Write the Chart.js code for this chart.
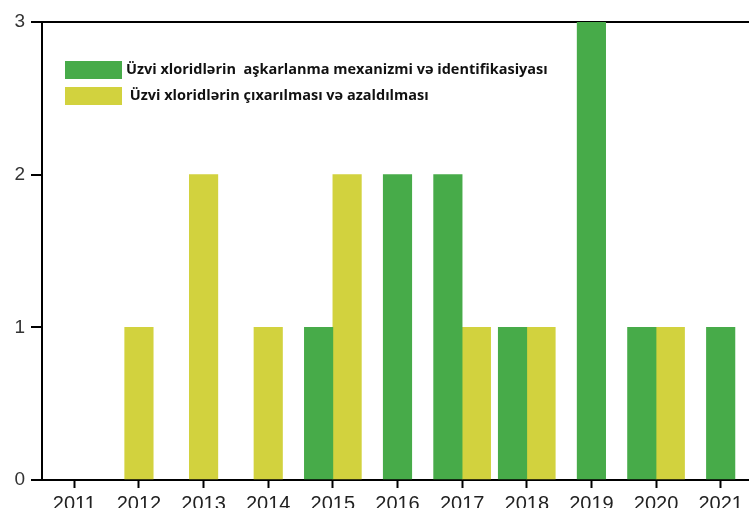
<!DOCTYPE html>
<html>
<head>
<meta charset="utf-8">
<script src="https://cdn.jsdelivr.net/npm/chart.js@4"></script>
<style>
    html, body { margin: 0; padding: 0; background: #fff; overflow: hidden; }
    #wrap { width: 753px; height: 508px; }
</style>
</head>
<body>
<div id="wrap"><canvas id="chart" width="753" height="508"></canvas></div>
<script>
const years = ["2011", "2012", "2013", "2014", "2015", "2016", "2017", "2018", "2019", "2020", "2021"];
const detectionLabel = "Üzvi xloridlərin  aşkarlanma mexanizmi və identifikasiyası";
const removalLabel = " Üzvi xloridlərin çıxarılması və azaldılması";
const detectionCounts = [null, null, null, null, 1, 2, 2, 1, 3, 1, 1];
const removalCounts = [null, 1, 2, 1, 2, null, 1, 1, null, 1, null];
const yTicks = [0, 1, 2, 3];

const green = "#47ab49";
const yellow = "#d2d23e";

// legend sits inside the plot, top-left
const boxLegend = {
    id: "boxLegend",
    afterDraw(chart) {
        const ctx = chart.ctx;
        const area = chart.chartArea;
        ctx.save();
        ctx.font = "bold 14.5px 'Open Sans'";
        ctx.textBaseline = "middle";
        chart.data.datasets.forEach((ds, i) => {
            const x = area.left + 23;
            const y = area.top + 39 + i * 26;
            ctx.fillStyle = ds.backgroundColor;
            ctx.fillRect(x, y, 57, 18);
            ctx.fillStyle = "#111";
            ctx.fillText(ds.label, x + 61, y + 9);
        });
        ctx.restore();
    },
};

new Chart(document.getElementById("chart").getContext("2d"), {
    type: "bar",
    data: {
        labels: years,
        datasets: [
            { label: detectionLabel, data: detectionCounts, backgroundColor: green },
            { label: removalLabel, data: removalCounts, backgroundColor: yellow },
        ],
    },
    options: {
        responsive: false,
        animation: false,
        skipNull: true,
        barThickness: 28.5,
        layout: { padding: { top: 22, right: 0, left: 0, bottom: 0 } },
        plugins: {
            legend: { display: false },
            tooltip: { enabled: false },
        },
        scales: {
            x: {
                grid: { offset: false, drawOnChartArea: false, tickLength: 8, tickColor: "#000", tickWidth: 2 },
                border: { color: "#000", width: 2 },
                ticks: { color: "#222", padding: 4, maxRotation: 0, font: { family: "'Liberation Sans'", size: 20 } },
                afterFit: (scale) => { scale.height = 28; },
            },
            y: {
                min: 0,
                max: 3,
                afterBuildTicks: (scale) => { scale.ticks = yTicks.map((v) => ({ value: v })); },
                grid: {
                    color: (c) => (c.tick && c.tick.value === 3 ? "#000" : "rgba(0,0,0,0)"),
                    lineWidth: 2,
                    tickLength: 11,
                    tickColor: "#000",
                    tickWidth: 2,
                },
                border: { color: "#000", width: 2 },
                ticks: { color: "#333", padding: 6, font: { family: "'Liberation Sans'", size: 19 } },
                afterFit: (scale) => { scale.width = 42; },
            },
        },
    },
    plugins: [boxLegend],
});
</script>
</body>
</html>
